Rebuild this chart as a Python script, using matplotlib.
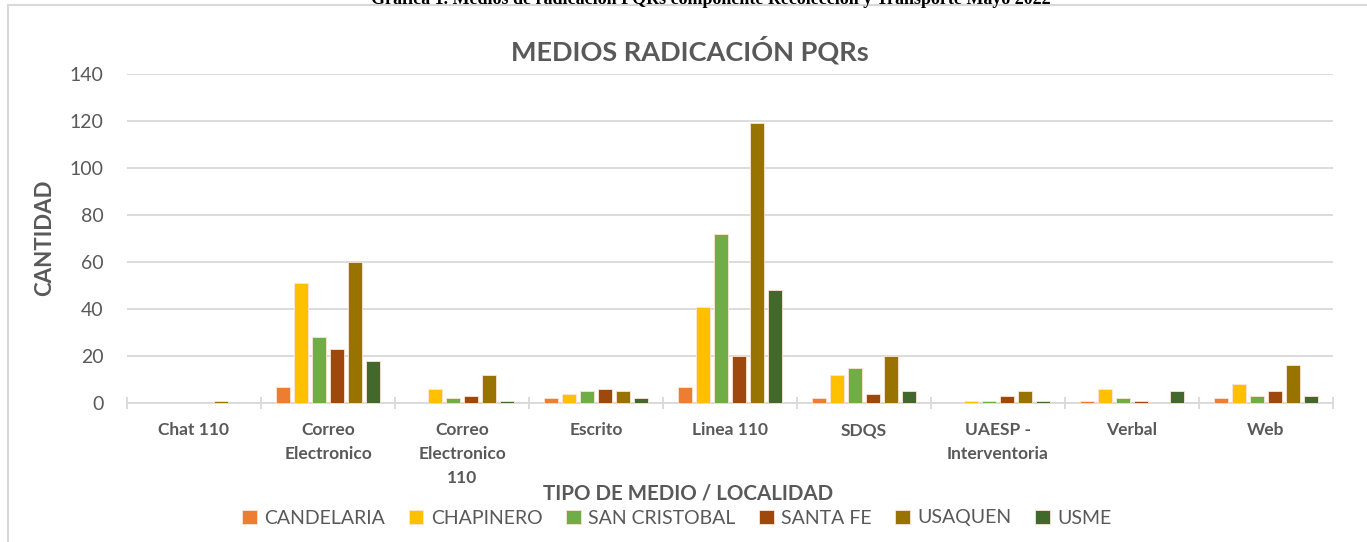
import matplotlib
matplotlib.use("Agg")
import matplotlib.pyplot as plt
import numpy as np
from matplotlib.patches import Rectangle

categories = ["Chat 110", "Correo\nElectronico", "Correo\nElectronico\n110", "Escrito",
              "Linea 110", "SDQS", "UAESP -\nInterventoria", "Verbal", "Web"]
series_names = ["CANDELARIA", "CHAPINERO", "SAN CRISTOBAL", "SANTA FE", "USAQUEN", "USME"]
candelaria = [0, 7, 0, 2, 7, 2, 0, 1, 2]
chapinero = [0, 51, 6, 4, 41, 12, 1, 6, 8]
san_cristobal = [0, 28, 2, 5, 72, 15, 1, 2, 3]
santa_fe = [0, 23, 3, 6, 20, 4, 3, 1, 5]
usaquen = [1, 60, 12, 5, 119, 20, 5, 0, 16]
usme = [0, 18, 1, 2, 48, 5, 1, 5, 3]
values = [candelaria, chapinero, san_cristobal, santa_fe, usaquen, usme]
colors = ["#ED7D31", "#FFC000", "#70AD47", "#9E480E", "#997300", "#43682B"]

plt.rcParams['font.family'] = ['Lato', 'DejaVu Sans']
txt = "#595959"

fig = plt.figure(figsize=(13.67, 5.42), dpi=100)
# chart border
fig.patches.append(Rectangle((8/1367, -0.05), 1.1, 1 - 5/542 + 0.05, transform=fig.transFigure,
                             fill=False, edgecolor="#D9D9D9", linewidth=1.5))
fig.text(0.52, 1.0, "Gráfica 1. Medios de radicación PQRs componente Recolección y Transporte Mayo 2022",
         ha="center", va="center", fontsize=13, fontweight="bold", family="Liberation Serif")

ax = fig.add_axes([127/1367, 1 - 403/542, (1333-127)/1367, (403-74)/542])
x = np.arange(len(categories))
bw = 0.11
step = 0.134
for i, (name, vals, c) in enumerate(zip(series_names, values, colors)):
    ax.bar(x + (i - 2.5) * step, vals, width=bw, color=c, label=name,
           edgecolor="#FBE5D6", linewidth=0.6, zorder=3)

ax.set_xlim(-0.5, len(categories) - 0.5)
ax.set_ylim(0, 140)
ax.set_yticks(range(0, 141, 20))
ax.yaxis.grid(True, color="#D9D9D9", linewidth=1.3, zorder=0)
for s in ["top", "right", "left"]:
    ax.spines[s].set_visible(False)
ax.spines["bottom"].set_color("#D9D9D9")
ax.spines["bottom"].set_linewidth(1.3)
ax.tick_params(axis="y", length=0, labelsize=14, labelcolor=txt, pad=17)
ax.set_xticks(x)
ax.set_xticklabels(categories, fontsize=12.5, fontweight="bold", color=txt, va="top", linespacing=1.6)
ax.tick_params(axis="x", which="major", length=0, pad=14)
ax.set_xticks(np.arange(-0.5, len(categories), 1), minor=True)
ax.tick_params(axis="x", which="minor", length=8, color="#D9D9D9", width=1.3, direction="inout")

fig.text(690/1367, 1 - 50/542, "MEDIOS RADICACIÓN PQRs", ha="center", va="center",
         fontsize=19.5, fontweight="bold", color=txt)
fig.text(45/1367, 1 - 238/542, "CANTIDAD", ha="center", va="center", rotation=90,
         fontsize=16, fontweight="bold", color=txt)
fig.text(688/1367, 1 - 494/542, "TIPO DE MEDIO / LOCALIDAD", ha="center", va="center",
         fontsize=14.8, fontweight="bold", color=txt)
leg = fig.legend(loc="center", bbox_to_anchor=(677/1367, 1 - 518/542), ncol=6, frameon=False,
                 fontsize=14, handlelength=0.75, handleheight=0.75, handletextpad=0.4,
                 columnspacing=1.2, labelcolor=txt)
fig.savefig("out.png", dpi=100)
